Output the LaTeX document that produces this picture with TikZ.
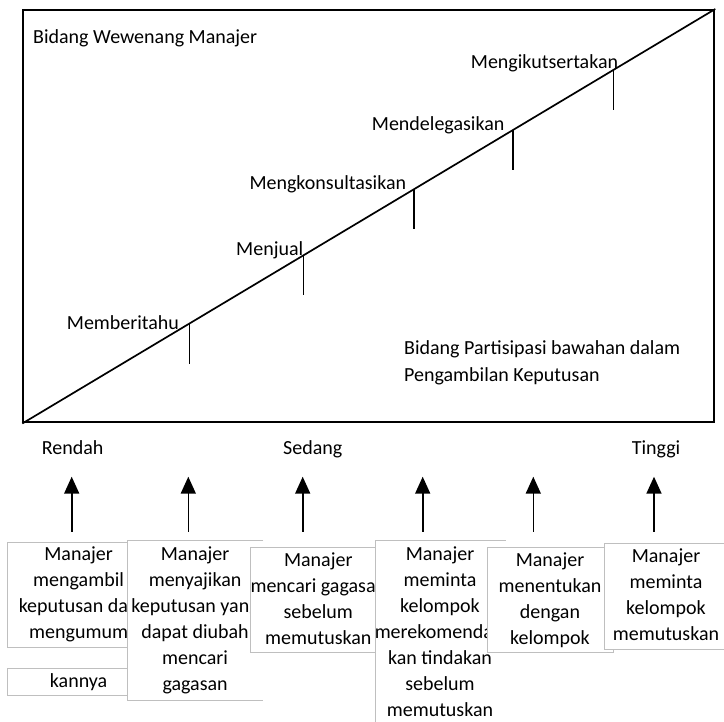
\documentclass[tikz,border=0pt]{standalone}
\usepackage{fontspec}
\setmainfont{Carlito}
\usetikzlibrary{arrows.meta}
\definecolor{boxgray}{RGB}{191,191,191}
\begin{document}
\begin{tikzpicture}[x=1pt,y=-1pt,
  lbl/.style={inner sep=0pt,anchor=base west,font=\fontsize{20}{26}\selectfont},
  boxtxt/.style={inner sep=0pt,anchor=north,align=center,font=\fontsize{20}{26}\selectfont},
  framebox/.style={fill=white,draw=boxgray,line width=0.8pt,inner sep=0pt,anchor=north west},
  frameopen/.style={fill=white,inner sep=0pt,anchor=north west},
  boxline/.style={draw=boxgray,line width=0.8pt},
  tick/.style={line width=1.8pt},
  uparrow/.style={line width=1.6pt,-{Triangle[width=15pt,length=17pt]}}]
\useasboundingbox (0,0) rectangle (724,722);
% main frame
\node[draw,line width=2pt,inner sep=0pt,minimum width=691pt,minimum height=412.5pt,anchor=north west] (frame) at (22.3,9) {};
\draw[line width=1.7pt] (frame.south west) -- (frame.north east)
  coordinate[pos=0.2412] (t1) coordinate[pos=0.4058] (t2) coordinate[pos=0.5658] (t3)
  coordinate[pos=0.7082] (t4) coordinate[pos=0.8530] (t5);
\foreach \i in {1,...,5}{\draw[tick] (t\i) -- ++(0,40) coordinate (b\i);}
% labels in frame
\node[lbl] (wew) at (33,43.3) {Bidang Wewenang Manajer};
\node[lbl] (l1) at (66.7,329.3) {Memberitahu};
\node[lbl] (l2) at (236,256) {Menjual};
\node[lbl] (l3) at (249.3,190) {Mengkonsultasikan};
\node[lbl] (l4) at (371.7,130.7) {Mendelegasikan};
\node[lbl] (l5) at (470.7,68.3) {Mengikutsertakan};
\node[lbl] (par1) at (404,355) {Bidang Partisipasi bawahan dalam};
\node[lbl] (par2) at (404,381.7) {Pengambilan Keputusan};
% scale labels
\node[lbl] (ren) at (41.7,455) {Rendah};
\node[lbl] (sed) at (283,455) {Sedang};
\node[lbl] (tin) at (631.7,455) {Tinggi};
% arrows
\foreach \x [count=\k] in {71.7,188.3,302.7,422.7,533.3,654}{
  \coordinate (a\k) at (\x,531.7);
  \coordinate (h\k) at (\x,476.7);
  \draw[uparrow] (a\k) -- (h\k);
}
% box 1
\node[framebox,minimum width=142.7pt,minimum height=105.2pt] (f1) at (7.3,541.7) {};
\node[boxtxt] (x1) at (78.6,546.2) {Manajer\\mengambil\\keputusan dan\\mengumum};
% continuation box
\node[framebox,minimum width=142.7pt,minimum height=26.7pt] (fk) at (7.3,668.3) {};
\node[boxtxt] (xk) at (78.6,673.7) {kannya};
% box 2
\node[frameopen,minimum width=135.7pt,minimum height=159.3pt] (f2) at (127.3,540.7) {};
\draw[boxline] (f2.north east) -- (f2.north west) -- (f2.south west) -- (f2.south east);
\node[boxtxt] (x2) at (195.1,546.2) {Manajer\\menyajikan\\keputusan yang\\dapat diubah\\mencari\\gagasan};
% box 3
\node[framebox,minimum width=136.7pt,minimum height=105pt] (f3) at (250,546.7) {};
\node[boxtxt] (x3) at (318.3,552.2) {Manajer\\mencari gagasan\\sebelum\\memutuskan};
% box 4
\node[frameopen,minimum width=130.5pt,minimum height=200pt] (f4) at (375,540.7) {};
\draw[boxline] (f4.north east) -- (f4.north west) -- (f4.south west);
\node[boxtxt] (x4) at (440,546.2) {Manajer\\meminta\\kelompok\\merekomendasi\\kan tindakan\\sebelum\\memutuskan};
% box 5
\node[framebox,minimum width=126.6pt,minimum height=105pt] (f5) at (486.7,546.7) {};
\node[boxtxt] (x5) at (550,552.2) {Manajer\\menentukan\\dengan\\kelompok};
% box 6
\node[framebox,minimum width=123.4pt,minimum height=105.7pt] (f6) at (604.3,543.3) {};
\node[boxtxt] (x6) at (666,548.2) {Manajer\\meminta\\kelompok\\memutuskan};
\end{tikzpicture}
\end{document}
